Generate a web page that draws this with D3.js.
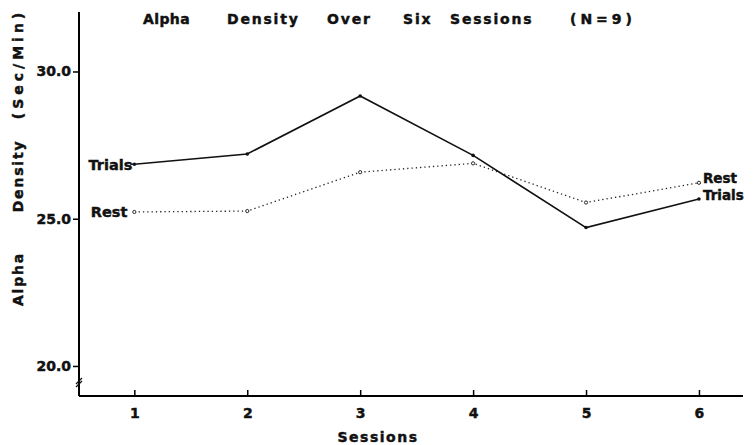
<!DOCTYPE html>
<html>
<head>
<meta charset="utf-8">
<script src="https://cdn.jsdelivr.net/npm/d3@7"></script>
<style>
  body { margin: 0; background: #fff; }
  text { font-family: "DejaVu Sans", sans-serif; font-weight: bold; fill: #111; stroke: #111; stroke-width: 0.45; }
</style>
</head>
<body>
<svg id="chart" width="753" height="445"></svg>
<script>
// sessions on the x axis
const sessions = [1, 2, 3, 4, 5, 6];
// alpha density (sec/min)
const trials = [26.85, 27.2, 29.17, 27.15, 24.7, 25.67];
const rest = [25.23, 25.26, 26.58, 26.88, 25.55, 26.22];
const yTicks = [20, 25, 30];
const titleWords = ["Alpha", "Density", "Over", "Six", "Sessions", "(N=9)"];
const yLabelWords = ["Alpha", "Density", "(Sec/Min)"];

const svg = d3.select("#chart");

// plot frame from the axis lines in the scan
const x = d3.scaleLinear().domain([0.51, 6.39]).range([79, 743]);
const y = d3.scaleLinear().domain([18.98, 32.02]).range([396, 12]);

// y axis, ticks pointing out to the left
const yAxis = svg.append("g")
  .attr("transform", "translate(79,0)")
  .call(d3.axisLeft(y).tickValues(yTicks).tickSize(6).tickPadding(2)
    .tickFormat(d3.format(".1f")));
yAxis.select(".domain").attr("stroke-width", 2).attr("d", "M0," + y.range()[1] + "V" + y.range()[0]);
yAxis.selectAll(".tick line").attr("stroke-width", 1.5);
yAxis.selectAll(".tick text").attr("font-size", 14).attr("fill", "#111");

// x axis, ticks pointing up into the plot
const xAxis = svg.append("g")
  .attr("transform", "translate(0,396)")
  .call(d3.axisBottom(x).tickValues(sessions).tickSize(-6).tickPadding(12)
    .tickFormat(d3.format("d")));
xAxis.select(".domain").attr("stroke-width", 2).attr("d", "M" + x.range()[0] + ",0H" + x.range()[1]);
xAxis.selectAll(".tick line").attr("stroke-width", 1.5);
xAxis.selectAll(".tick text").attr("font-size", 14).attr("fill", "#111");

// axis break mark below 20.0
svg.append("path")
  .attr("d", "M76,387 L82,381 M76,384 L82,378")
  .attr("stroke", "#111").attr("stroke-width", 1.2);

const line = d3.line().x((d, i) => x(sessions[i])).y(d => y(d));

svg.append("path").datum(trials)
  .attr("d", line).attr("fill", "none")
  .attr("stroke", "#111").attr("stroke-width", 1.6);

svg.append("path").datum(rest)
  .attr("d", line).attr("fill", "none")
  .attr("stroke", "#222").attr("stroke-width", 1.3)
  .attr("stroke-dasharray", "1.3,3");

svg.selectAll(".pt-t").data(trials).enter().append("circle")
  .attr("cx", (d, i) => x(sessions[i])).attr("cy", d => y(d))
  .attr("r", 1.8).attr("fill", "#111");
svg.selectAll(".pt-r").data(rest).enter().append("circle")
  .attr("cx", (d, i) => x(sessions[i])).attr("cy", d => y(d))
  .attr("r", 1.6).attr("fill", "#fff").attr("stroke", "#111").attr("stroke-width", 0.9);

// series labels at both ends
svg.append("line").attr("x1", x(1) - 4).attr("x2", x(1))
  .attr("y1", y(trials[0])).attr("y2", y(trials[0])).attr("stroke", "#111").attr("stroke-width", 1.4);
svg.append("text").attr("x", x(1) - 2).attr("y", y(trials[0]) + 5.5)
  .attr("text-anchor", "end").attr("font-size", 14.5).text("Trials");
svg.append("text").attr("x", x(1) - 7).attr("y", y(rest[0]) + 5.5)
  .attr("text-anchor", "end").attr("font-size", 14.5).text("Rest");
svg.append("text").attr("x", x(6) + 4).attr("y", y(rest[5]) + 0.5)
  .attr("font-size", 13.5).text("Rest");
svg.append("text").attr("x", x(6) + 4).attr("y", y(trials[5]) + 1)
  .attr("font-size", 13.5).text("Trials");

// title, words spread out as in the scan
const titleX = [143, 227, 327, 403, 450, 570];
svg.append("g").selectAll("text").data(titleWords).enter().append("text")
  .attr("x", (d, i) => titleX[i]).attr("y", 24)
  .attr("font-size", 14).attr("letter-spacing", (d, i) => i === 5 ? 4 : i === 0 ? 0.4 : 1.8)
  .text(d => d);

// axis titles
svg.append("text").attr("x", 378).attr("y", 442)
  .attr("text-anchor", "middle").attr("font-size", 14).attr("letter-spacing", 1.5)
  .text("Sessions");
const yLabelMid = [279, 176, 64];
svg.append("g").selectAll("text").data(yLabelWords).enter().append("text")
  .attr("transform", (d, i) => "translate(23," + yLabelMid[i] + ") rotate(-90)")
  .attr("text-anchor", "middle").attr("font-size", 14)
  .attr("letter-spacing", (d, i) => i === 2 ? 4 : 1.8)
  .text(d => d);
</script>
</body>
</html>
